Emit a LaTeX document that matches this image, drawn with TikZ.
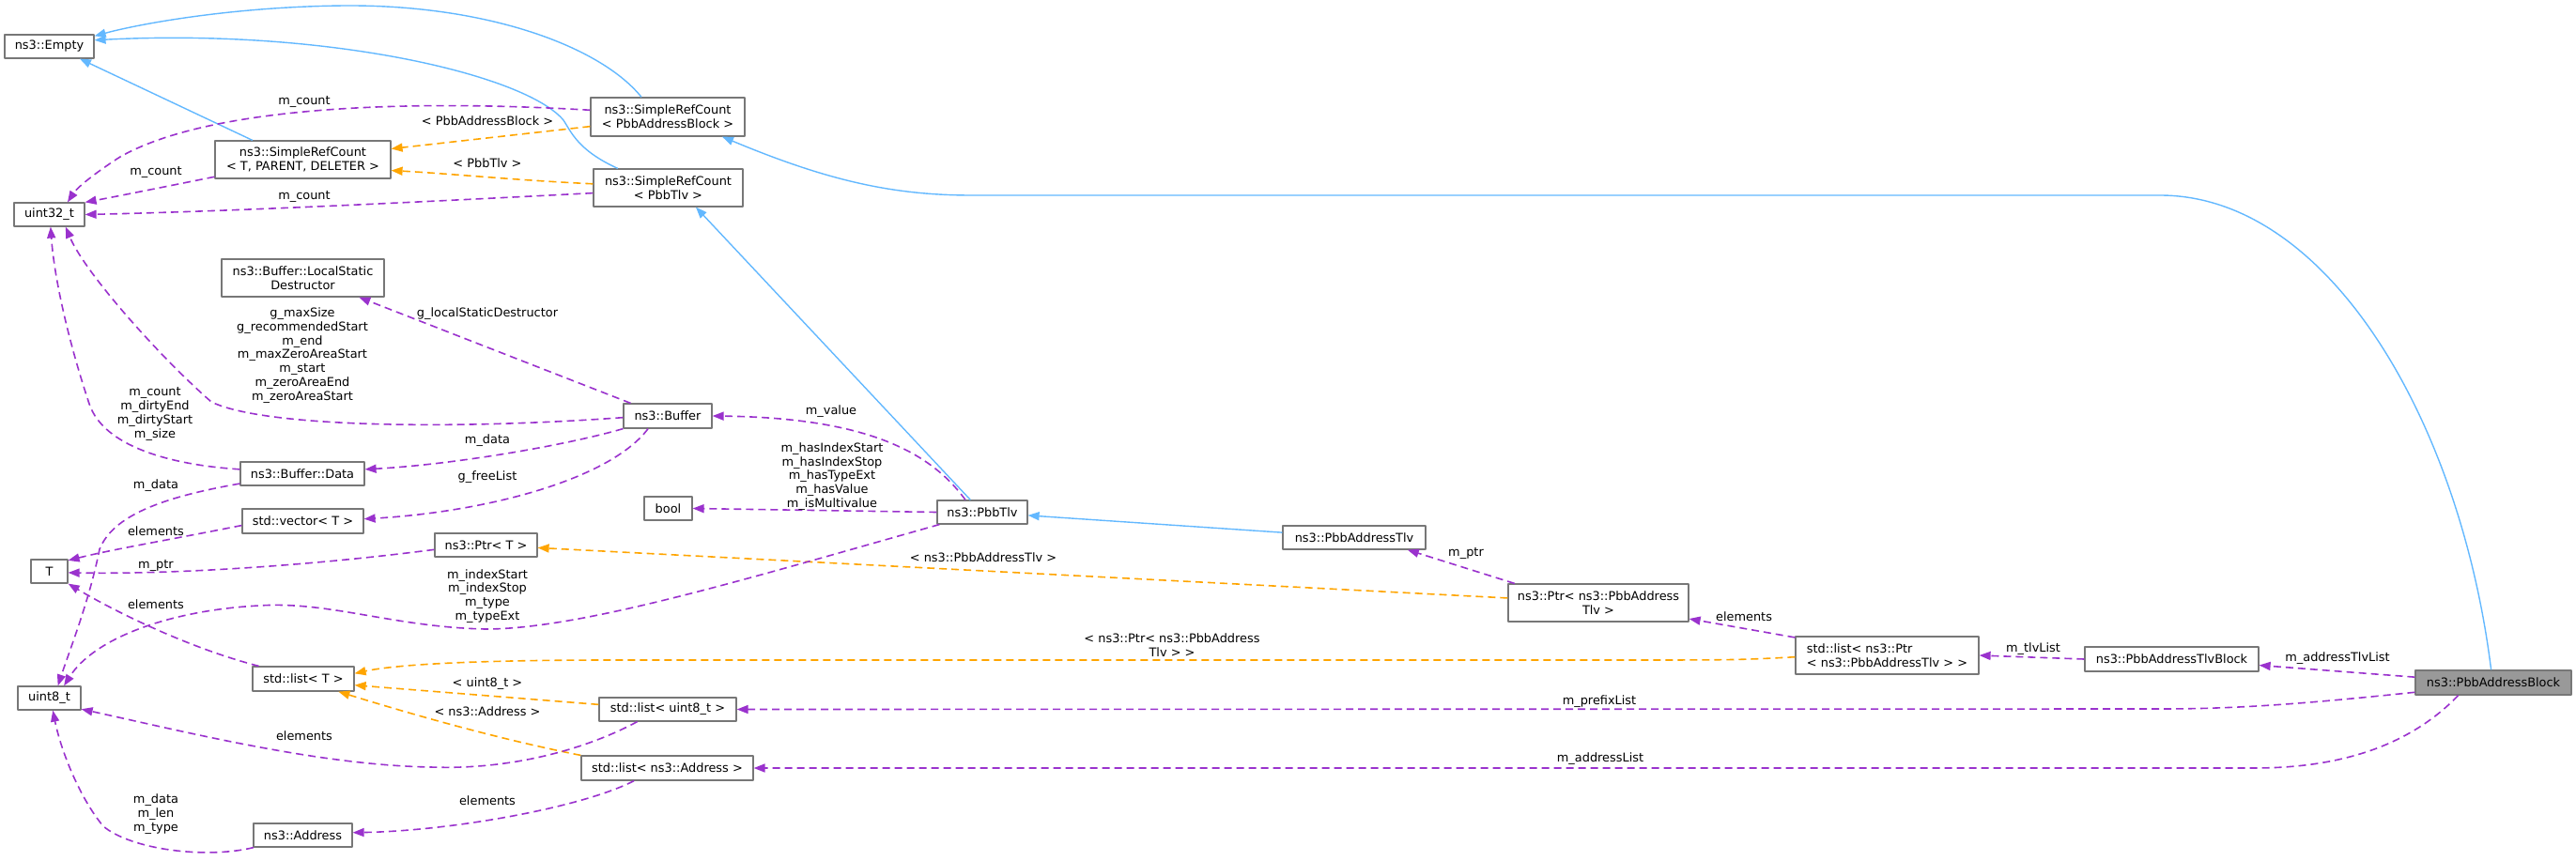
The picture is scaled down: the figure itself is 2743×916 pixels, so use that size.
\documentclass[tikz,border=0pt]{standalone}
\usepackage{fontspec}
\setmainfont{DejaVu Sans}
\usetikzlibrary{arrows.meta}

\definecolor{inhblue}{HTML}{63B8FF}
\definecolor{usepurple}{HTML}{9A32CD}
\definecolor{tmplorange}{HTML}{FFA500}
\definecolor{boxgray}{HTML}{777777}
\definecolor{selgray}{HTML}{999999}

\begin{document}
\begin{tikzpicture}[x=1pt, y=-1pt, line join=round,
  font=\fontsize{12.9}{14.8}\selectfont,
  box/.style={draw=boxgray, line width=1.2pt, fill=white, inner sep=2pt, align=center},
  boxsel/.style={box, fill=selgray},
  lbl/.style={inner sep=0pt, align=center},
  inh/.style={draw=inhblue, line width=1.4pt, -{Triangle[length=12pt,width=9pt]}},
  use/.style={draw=usepurple, line width=1.6pt, dash pattern=on 8pt off 5pt,
              -{Triangle[length=12pt,width=9pt]}},
  tmpl/.style={draw=tmplorange, line width=1.6pt, dash pattern=on 8pt off 5pt,
               -{Triangle[length=12pt,width=9pt]}}]

  %% ════ classes ════
  \node[box, minimum width=95,  minimum height=25] (empty)    at (52.5,49.5)   {ns3::Empty};
  \node[box, minimum width=187, minimum height=40] (srcTPD)   at (322.5,170)   {ns3::SimpleRefCount\\< T, PARENT, DELETER >};
  \node[box, minimum width=164, minimum height=41] (srcPAB)   at (711,124.5)   {ns3::SimpleRefCount\\< PbbAddressBlock >};
  \node[box, minimum width=159, minimum height=40] (srcTlv)   at (711.5,200)   {ns3::SimpleRefCount\\< PbbTlv >};
  \node[box, minimum width=75,  minimum height=25] (uint32)   at (52.5,228.5)  {uint32\_t};
  \node[box, minimum width=173, minimum height=40] (lsd)      at (322.5,296)   {ns3::Buffer::LocalStatic\\Destructor};
  \node[box, minimum width=94,  minimum height=26] (buffer)   at (711,443)     {ns3::Buffer};
  \node[box, minimum width=132, minimum height=25] (data)     at (322,504.5)   {ns3::Buffer::Data};
  \node[box, minimum width=129, minimum height=26] (vector)   at (322.5,555)   {std::vector< T >};
  \node[box, minimum width=51,  minimum height=25] (bool)     at (711.5,541.5) {bool};
  \node[box, minimum width=109, minimum height=25] (ptrT)     at (517.5,580.5) {ns3::Ptr< T >};
  \node[box, minimum width=39,  minimum height=25] (T)        at (52.5,608.5)  {T};
  \node[box, minimum width=67,  minimum height=25] (uint8)    at (52.5,743.5)  {uint8\_t};
  \node[box, minimum width=108, minimum height=26] (listT)    at (323,723)     {std::list< T >};
  \node[box, minimum width=146, minimum height=25] (listU8)   at (711,755.5)   {std::list< uint8\_t >};
  \node[box, minimum width=183, minimum height=26] (listAddr) at (710.5,818)   {std::list< ns3::Address >};
  \node[box, minimum width=105, minimum height=25] (address)  at (322.5,889.5) {ns3::Address};
  \node[box, minimum width=96,  minimum height=25] (pbbTlv)   at (1046,545.5)  {ns3::PbbTlv};
  \node[box, minimum width=152, minimum height=25] (pat)      at (1442,572.5)  {ns3::PbbAddressTlv};
  \node[box, minimum width=192, minimum height=40] (ptrPAT)   at (1702,642)    {ns3::Ptr< ns3::PbbAddress\\Tlv >};
  \node[box, minimum width=195, minimum height=40, align=left] (listPtr) at (2009.5,698) {std::list< ns3::Ptr\\< ns3::PbbAddressTlv > >};
  \node[box, minimum width=185, minimum height=26] (patb)     at (2312.5,702)  {ns3::PbbAddressTlvBlock};
  \node[boxsel, minimum width=166, minimum height=26] (pab)   at (2655,727)    {ns3::PbbAddressBlock};

  %% ════ inheritance (blue) ════
  \draw[inh] (srcPAB.143) .. controls (640,50) and (520,5) .. (367,6)
             .. controls (250,7) and (150,25) .. (empty.13);
  \draw[inh] (srcTlv.159) .. controls (615,160) and (608,140) .. (600,128)
             .. controls (560,80) and (350,30) .. (empty.8);
  \draw[inh] (srcTPD.159) -- (empty.-22);
  \draw[inh] (pbbTlv.134) -- (srcTlv.-35);
  \draw[inh] (pat.176) -- (pbbTlv.-4);
  \draw[inh] (pab.100) .. controls (2620,450) and (2480,208) .. (2300,208) -- (1035,208)
             .. controls (950,208) and (880,192) .. (srcPAB.-20);

  %% ════ template instances (orange) ════
  \draw[tmpl] (srcPAB.187) -- (srcTPD.7);
  \draw[tmpl] (srcTlv.177) .. controls (550,192) and (480,185) .. (srcTPD.-7);
  \draw[tmpl] (listU8.176) -- (listT.-7);
  \draw[tmpl] (listAddr.north west) .. controls (520,785) and (420,755) .. (listT.-20);
  \draw[tmpl] (listPtr.181) .. controls (1850,703) .. (1700,703) -- (650,703)
              .. controls (500,703) and (420,708) .. (listT.6);
  \draw[tmpl] (ptrPAT.177) -- (ptrT.-3);

  %% ════ members (purple) ════
  \draw[use] (srcPAB.175) .. controls (420,105) and (220,115) .. (128,167)
             .. controls (100,185) and (82,200) .. (uint32.34);
  \draw[use] (srcTPD.191) .. controls (170,200) and (120,210) .. (uint32.north east);
  \draw[use] (srcTlv.184) .. controls (450,215) and (250,225) .. (uint32.east);
  \draw[use] (buffer.182) .. controls (480,458) and (280,455) .. (225,428)
             .. controls (170,380) and (90,290) .. (uint32.-37);
  \draw[use] (data.176) .. controls (180,495) and (110,475) .. (95,430)
             .. controls (75,370) and (58,300) .. (uint32.-84);
  \draw[use] (buffer.161) -- (lsd.-19);
  \draw[use] (buffer.south west) .. controls (600,475) and (480,495) .. (data.4);
  \draw[use] (buffer.213) .. controls (650,510) and (520,545) .. (vector.2);
  \draw[use] (data.189) .. controls (170,530) and (120,550) .. (106,585)
             .. controls (95,640) and (75,690) .. (uint8.55);
  \draw[use] (pbbTlv.196) .. controls (800,615) and (620,670) .. (517,670)
             .. controls (420,668) and (350,640) .. (276,645)
             .. controls (180,650) and (100,680) .. (uint8.40);
  \draw[use] (vector.184) .. controls (180,575) and (120,585) .. (T.30);
  \draw[use] (ptrT.185) .. controls (350,600) and (200,612) .. (T.-4);
  \draw[use] (listT.164) .. controls (200,690) and (120,650) .. (T.south east);
  \draw[use] (listU8.202) .. controls (620,800) and (540,820) .. (459,817)
             .. controls (340,815) and (200,780) .. (uint8.-19);
  \draw[use] (address.194) .. controls (220,915) and (140,905) .. (110,880)
             .. controls (85,850) and (65,800) .. (uint8.-74);
  \draw[use] (listAddr.201) .. controls (620,860) and (480,885) .. (address.3);
  \draw[use] (pbbTlv.144) .. controls (990,480) and (920,445) .. (buffer.east);
  \draw[use] (pbbTlv.west) -- (bool.east);
  \draw[use] (ptrPAT.167) -- (pat.-13);
  \draw[use] (listPtr.169) -- (ptrPAT.-10);
  \draw[use] (patb.west) -- (listPtr.east);
  \draw[use] (pab.176) -- (patb.-4);
  \draw[use] (pab.187) .. controls (2450,750) and (2380,755) .. (2300,755) -- (listU8.east);
  \draw[use] (pab.200) .. controls (2570,790) and (2500,818) .. (2400,818) -- (listAddr.east);

  %% ════ labels ════
  \node[lbl] (lCntPAB)   at (324,108)   {m\_count};
  \node[lbl] (lTPAB)     at (519,129)   {< PbbAddressBlock >};
  \node[lbl] (lCntTPD)   at (166,183)   {m\_count};
  \node[lbl] (lTTlv)     at (519,174)   {< PbbTlv >};
  \node[lbl] (lCntTlv)   at (324,209)   {m\_count};
  \node[lbl] (lBufU32)   at (322,378.5) {g\_maxSize\\g\_recommendedStart\\m\_end\\m\_maxZeroAreaStart\\m\_start\\m\_zeroAreaEnd\\m\_zeroAreaStart};
  \node[lbl] (lLsd)      at (519,334)   {g\_localStaticDestructor};
  \node[lbl] (lDataU32)  at (165,441)   {m\_count\\m\_dirtyEnd\\m\_dirtyStart\\m\_size};
  \node[lbl] (lBufData)  at (519,469)   {m\_data};
  \node[lbl] (lValue)    at (885,438)   {m\_value};
  \node[lbl] (lBool)     at (886,507.5) {m\_hasIndexStart\\m\_hasIndexStop\\m\_hasTypeExt\\m\_hasValue\\m\_isMultivalue};
  \node[lbl] (lFree)     at (519,508)   {g\_freeList};
  \node[lbl] (lDataU8)   at (166,517)   {m\_data};
  \node[lbl] (lVecT)     at (166,566)   {elements};
  \node[lbl] (lTPAT)     at (1047,594)  {< ns3::PbbAddressTlv >};
  \node[lbl] (lPtrT)     at (166,602)   {m\_ptr};
  \node[lbl] (lPtrPAT)   at (1561,589)  {m\_ptr};
  \node[lbl] (lTlvU8)    at (519,635)   {m\_indexStart\\m\_indexStop\\m\_type\\m\_typeExt};
  \node[lbl] (lListT)    at (166,644)   {elements};
  \node[lbl] (lListPtr)  at (1857,657)  {elements};
  \node[lbl] (lTPtr)     at (1248,687)  {< ns3::Ptr< ns3::PbbAddress\\Tlv > >};
  \node[lbl] (lTlvList)  at (2165,691)  {m\_tlvList};
  \node[lbl] (lAddrTlv)  at (2489,701)  {m\_addressTlvList};
  \node[lbl] (lTU8)      at (519,728)   {< uint8\_t >};
  \node[lbl] (lPrefix)   at (1703,747)  {m\_prefixList};
  \node[lbl] (lTAddr)    at (519,758)   {< ns3::Address >};
  \node[lbl] (lListU8)   at (324,784)   {elements};
  \node[lbl] (lAddrList) at (1704,808)  {m\_addressList};
  \node[lbl] (lListAddr) at (519,853)   {elements};
  \node[lbl] (lAddrU8)   at (166,867)   {m\_data\\m\_len\\m\_type};

  % fix the canvas to the reference size
  \pgfresetboundingbox
  \path[use as bounding box] (0,0) rectangle (2743,916);
\end{tikzpicture}
\end{document}
